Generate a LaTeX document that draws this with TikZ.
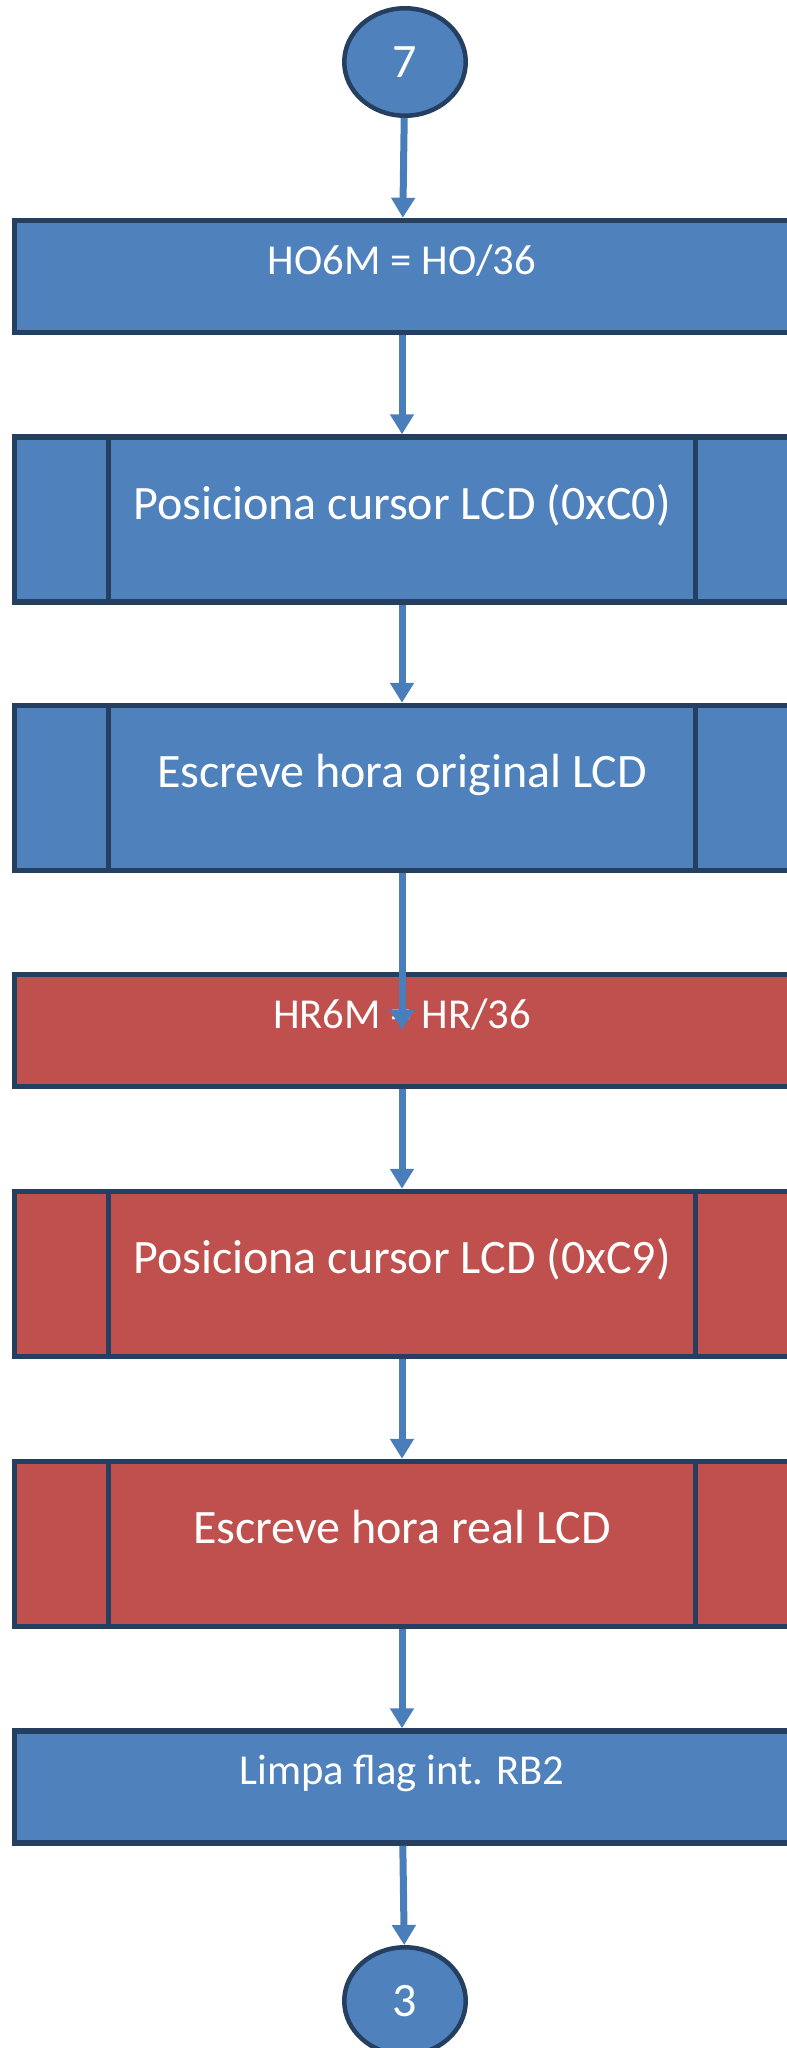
\documentclass[tikz,border=0pt]{standalone}
\usepackage{fontspec}
\setmainfont{Carlito}
\usepackage{xcolor}
\usepackage{tikz}
\usetikzlibrary{shapes.geometric,arrows.meta}
\definecolor{procblue}{HTML}{4F81BD}
\definecolor{procred}{HTML}{C0504D}
\definecolor{navyedge}{HTML}{243F60}
\definecolor{flowblue}{HTML}{4A7EBB}

\begin{document}
\begin{tikzpicture}[x=0.75pt, y=-0.75pt,
  textbox/.style={draw=navyedge, line width=4.125pt, text=white, minimum width=580.9pt, inner sep=0pt},
  opbox/.style={textbox, minimum height=84pt, font=\fontsize{32}{38}\selectfont, text height=20.25pt, text depth=24pt},
  subbox/.style={textbox, minimum height=123.75pt, font=\fontsize{36}{43}\selectfont, text height=23.25pt, text depth=24pt,
    path picture={\draw[navyedge, line width=4.125pt]
      ([xshift=70.5pt]path picture bounding box.north west) -- ([xshift=70.5pt]path picture bounding box.south west)
      ([xshift=-70.5pt]path picture bounding box.north east) -- ([xshift=-70.5pt]path picture bounding box.south east);}},
  termnode/.style={ellipse, draw=navyedge, line width=3.375pt, fill=procblue, text=white, minimum width=91.1pt, minimum height=80.6pt, inner sep=0pt, font=\fontsize{36}{43}\selectfont},
  flow/.style={color=flowblue, line width=5.25pt, -{Triangle[width=17.25pt,length=15pt]}}]
\useasboundingbox (0,0) rectangle (787,2048);
% connectors and boxes
\node[termnode] (c7) at (405,62) {7};
\node[opbox, fill=procblue] (b1) at (402,276.5) {HO6M = HO/36};
\node[subbox, fill=procblue] (b2) at (402,519.5) {Posiciona cursor LCD (0xC0)};
\node[subbox, fill=procblue] (b3) at (402,788) {Escreve hora original LCD};
\node[opbox, fill=procred] (b4) at (402,1030.5) {HR6M = HR/36};
\node[subbox, fill=procred] (b5) at (402,1274) {Posiciona cursor LCD (0xC9)};
\node[subbox, fill=procred] (b6) at (402,1544) {Escreve hora real LCD};
\node[opbox, fill=procblue] (b7) at (402,1787) {Limpa flag int. RB2};
\node[termnode] (c3) at (405,2001) {3};
\coordinate (t4) at (402,1030);
\draw [flow] (c7) edge (b1);
\draw [flow] (b1) edge (b2);
\draw [flow] (b2) edge (b3);
\draw [flow] (b3) -- (t4);
\draw [flow] (b4) edge (b5);
\draw [flow] (b5) edge (b6);
\draw [flow] (b6) edge (b7);
\draw [flow] (b7) edge (c3);
\end{tikzpicture}
\end{document}
